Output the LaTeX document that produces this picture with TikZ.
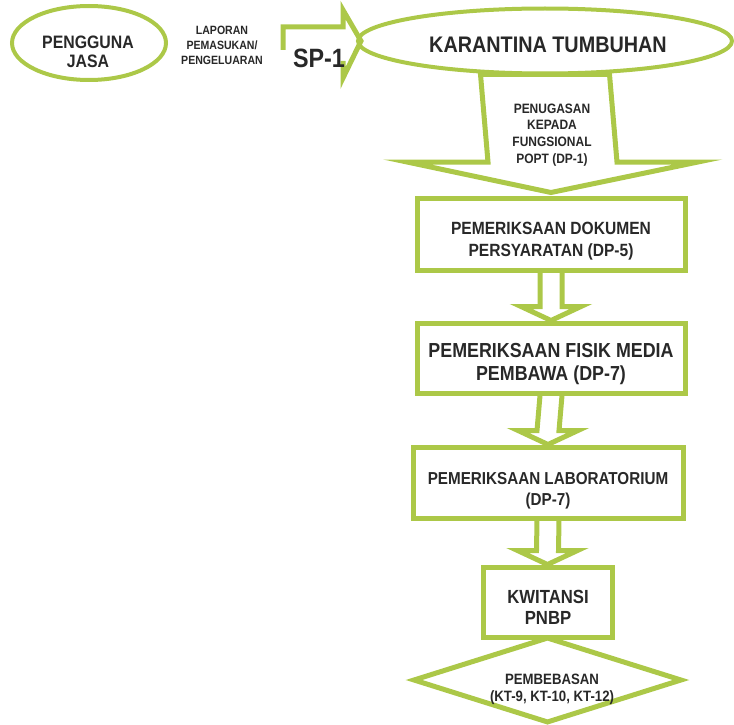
\documentclass[tikz,border=0pt]{standalone}
\usepackage{fontspec}
\setmainfont{Liberation Sans}[FakeStretch=0.88]
\usetikzlibrary{shapes.geometric,calc}
\definecolor{lg}{RGB}{172,200,72}
\definecolor{ink}{RGB}{40,40,40}
\newcommand\fsz[2]{\fontsize{#1}{#2}\selectfont\bfseries}
\tikzset{
  gline/.style={draw=lg, line width=5pt, line join=miter},
  gell/.style={ellipse, draw=lg, line width=4pt, inner sep=0pt},
  gbox/.style={rectangle, draw=lg, line width=5pt, inner sep=0pt},
  gdia/.style={diamond, draw=lg, line width=5pt, inner sep=0pt, aspect=3},
  txt/.style={align=center, text=ink, inner sep=0pt},
}
\begin{document}
\begin{tikzpicture}[x=1pt,y=-1pt]
\useasboundingbox (0,0) rectangle (734,725);
% top row
\node[gell, minimum width=154pt, minimum height=74pt] (user) at (89,43) {};
\node[txt, font=\fsz{18}{19}] (usert) at (88,52) {PENGGUNA\\JASA};
\node[txt, font=\fsz{12}{15}] (lap) at (222,45) {LAPORAN\\PEMASUKAN/\\PENGELUARAN};
\node[gell, minimum width=374pt, minimum height=65pt] (kt) at (545,41) {};
\node[txt, font=\fsz{22.5}{24}] (ktt) at (548,45) {KARANTINA TUMBUHAN};
% SP-1 block arrow (lower left part hidden by the label)
\coordinate (sptip) at (kt.west);
\draw[gline] (283,50) -- (283,27) -- (343,27) -- (343,10) -- ([xshift=5pt]sptip) -- (343,78) -- (343,61);
\node[txt, font=\fsz{26.5}{28}] (sp1) at (319,58) {SP-1};
% boxes
\node[gbox, minimum width=268pt, minimum height=72pt] (b1) at (551,234) {};
\node[gbox, minimum width=268pt, minimum height=70pt] (b2) at (551,358) {};
\node[gbox, minimum width=270pt, minimum height=71pt] (b3) at (548,482.5) {};
\node[gbox, minimum width=129pt, minimum height=70pt] (b4) at (547.5,602) {};
\node[gdia, minimum width=269pt, minimum height=86pt] (d1) at (547.5,680) {};
% big down arrow
\draw[gline, fill=white] ($(kt.south)+(-64.5,-1)$) -- ($(kt.south)+(64.5,-1)$)
  -- (617,162) -- (698,162) -- ([yshift=3pt]b1.north) -- (407,162) -- (488,162) -- cycle;
% small block arrows
\foreach \a/\b in {b1/b2,b2/b3,b3/b4}{
  \draw[gline] ($(\a.south)+(-11,0)$) -- ($(\b.north)+(-11,-14)$) -- ($(\b.north)+(-30,-14)$)
    -- (\b.north) -- ($(\b.north)+(30,-14)$) -- ($(\b.north)+(11,-14)$) -- ($(\a.south)+(11,0)$);
}
% texts
\node[txt, font=\fsz{13.6}{16.7}] (pen) at (552,135) {PENUGASAN\\KEPADA\\FUNGSIONAL\\POPT (DP-1)};
\node[txt, font=\fsz{17.7}{22}] (t1) at (551,241) {PEMERIKSAAN DOKUMEN\\PERSYARATAN (DP-5)};
\node[txt, font=\fsz{20.3}{23}] (t2) at (551,364) {PEMERIKSAAN FISIK MEDIA\\PEMBAWA (DP-7)};
\node[txt, font=\fsz{17.3}{21}] (t3) at (548,491) {PEMERIKSAAN LABORATORIUM\\(DP-7)};
\node[txt, font=\fsz{19}{21}] (t4) at (548,607) {KWITANSI\\PNBP};
\node[txt, font=\fsz{15}{17}] (t5) at (552,689) {PEMBEBASAN\\(KT-9, KT-10, KT-12)};
\end{tikzpicture}
\end{document}
